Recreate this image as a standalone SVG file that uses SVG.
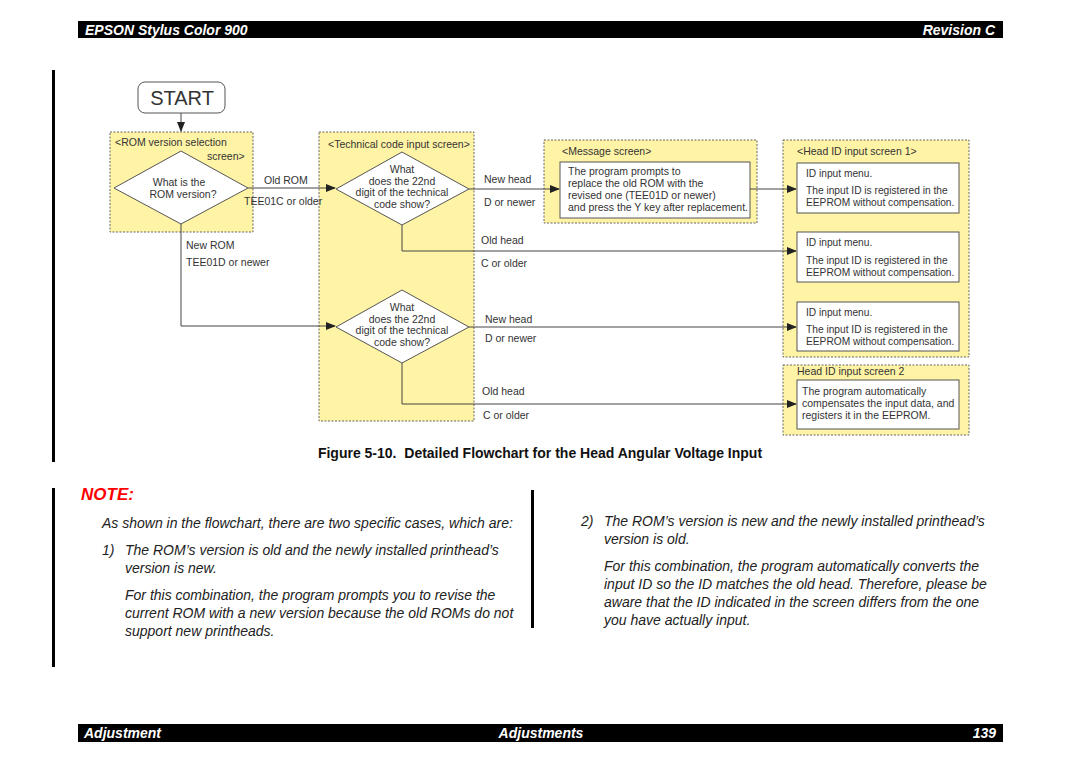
<svg xmlns="http://www.w3.org/2000/svg" width="1080" height="763" viewBox="0 0 1080 763">
<defs>
<marker id="arr" markerWidth="10" markerHeight="8" refX="9" refY="4" orient="auto" markerUnits="userSpaceOnUse">
<path d="M0,0 L10,4 L0,8 Z" fill="#222"/>
</marker>
<style>
.t{font-family:"Liberation Sans",Arial,sans-serif;font-size:10.5px;fill:#333}
.s{font-size:10.2px}
.zone{fill:#FFF4A6;stroke:#666;stroke-width:1;stroke-dasharray:2,1.5}
.wbox{fill:#fff;stroke:#555;stroke-width:1}
.dia{fill:#fff;stroke:#555;stroke-width:1}
.c{fill:none;stroke:#444;stroke-width:1}
.bar{fill:#000}
.hd{font-family:"Liberation Sans",Arial,sans-serif;font-size:14px;font-weight:bold;font-style:italic;fill:#fff}
.body{font-family:"Liberation Sans",Arial,sans-serif;font-size:14px;font-style:italic;fill:#222}
</style>
</defs>
<rect width="1080" height="763" fill="#fff"/>
<!-- header/footer -->
<rect class="bar" x="78" y="21" width="925" height="17"/>
<text class="hd" x="85" y="35">EPSON Stylus Color 900</text>
<text class="hd" x="995" y="35" text-anchor="end">Revision C</text>
<rect class="bar" x="78" y="724" width="925" height="18"/>
<text class="hd" x="84" y="738">Adjustment</text>
<text class="hd" x="541" y="738" text-anchor="middle">Adjustments</text>
<text class="hd" x="996" y="738" text-anchor="end">139</text>
<!-- change bars -->
<rect class="bar" x="52" y="70" width="3" height="392"/>
<rect class="bar" x="52" y="488" width="3" height="179"/>
<rect class="bar" x="531" y="490" width="3" height="138"/>

<!-- zones -->
<g id="zone-rom"><rect class="zone" x="110" y="132" width="143" height="100"/>
<text class="t" x="115" y="146">&lt;ROM version selection</text>
<text class="t" x="207" y="160">screen&gt;</text></g>
<g id="zone-tech"><rect class="zone" x="319" y="132" width="155" height="289"/>
<text class="t" x="328" y="148">&lt;Technical code input screen&gt;</text></g>
<g id="zone-msg"><rect class="zone" x="544" y="140" width="213" height="83"/>
<text class="t" x="562" y="155">&lt;Message screen&gt;</text></g>
<g id="zone-head1"><rect class="zone" x="783" y="140" width="186" height="217"/>
<text class="t" x="797" y="155">&lt;Head ID input screen 1&gt;</text></g>
<g id="zone-head2"><rect class="zone" x="783" y="365" width="186" height="70"/>
<text class="t" x="797" y="375">Head ID input screen 2</text></g>

<!-- connectors -->
<g id="connectors">
<path class="c" d="M181,113 V131" marker-end="url(#arr)"/>
<path class="c" d="M248,188 H335" marker-end="url(#arr)"/>
<path class="c" d="M469,189 H559" marker-end="url(#arr)"/>
<path class="c" d="M750,189 H796" marker-end="url(#arr)"/>
<path class="c" d="M402,225 V251 H796" marker-end="url(#arr)"/>
<path class="c" d="M181,224 V326 H335" marker-end="url(#arr)"/>
<path class="c" d="M469,327 H796" marker-end="url(#arr)"/>
<path class="c" d="M402,363 V404 H796" marker-end="url(#arr)"/>
<text class="t" x="264" y="184">Old ROM</text>
<text class="t" x="244" y="205">TEE01C or older</text>
<text class="t" x="484" y="183">New head</text>
<text class="t" x="484" y="206">D or newer</text>
<text class="t" x="481" y="244">Old head</text>
<text class="t" x="481" y="267">C or older</text>
<text class="t" x="186" y="249">New ROM</text>
<text class="t" x="186" y="266">TEE01D or newer</text>
<text class="t" x="485" y="323">New head</text>
<text class="t" x="485" y="342">D or newer</text>
<text class="t" x="482" y="395">Old head</text>
<text class="t" x="483" y="419">C or older</text>
</g>

<!-- nodes -->
<g id="start"><rect x="138" y="82" width="87" height="31" rx="7" fill="#fff" stroke="#555"/>
<text x="182" y="105" text-anchor="middle" style="font-family:'Liberation Sans',Arial,sans-serif;font-size:20px;fill:#333">START</text></g>
<g id="d-rom"><polygon class="dia" points="181,151 248,188 181,224 114,188"/>
<text class="t" x="179" y="186" text-anchor="middle">What is the</text>
<text class="t" x="183" y="198" text-anchor="middle">ROM version?</text></g>
<g id="d-tech1"><polygon class="dia" points="402,152 469,189 402,225 336,189"/>
<text class="t" x="402" y="173" text-anchor="middle">What</text>
<text class="t" x="402" y="185" text-anchor="middle">does the 22nd</text>
<text class="t" x="402" y="196" text-anchor="middle">digit of the technical</text>
<text class="t" x="402" y="208" text-anchor="middle">code show?</text></g>
<g id="d-tech2"><polygon class="dia" points="402,290 469,327 402,363 336,327"/>
<text class="t" x="402" y="311" text-anchor="middle">What</text>
<text class="t" x="402" y="323" text-anchor="middle">does the 22nd</text>
<text class="t" x="402" y="334" text-anchor="middle">digit of the technical</text>
<text class="t" x="402" y="346" text-anchor="middle">code show?</text></g>
<g id="msg"><rect class="wbox" x="560" y="162" width="190" height="56"/>
<text class="t" x="568" y="175">The program prompts to</text>
<text class="t" x="568" y="187">replace the old ROM with the</text>
<text class="t" x="568" y="199">revised one (TEE01D or newer)</text>
<text class="t" x="568" y="211">and press the Y key after replacement.</text></g>
<g id="head1a"><rect class="wbox" x="797" y="163" width="162" height="50"/>
<text class="t s" x="806" y="177">ID input menu.</text>
<text class="t s" x="806" y="194">The input ID is registered in the</text>
<text class="t s" x="806" y="206">EEPROM without compensation.</text></g>
<g id="head1b"><rect class="wbox" x="797" y="232" width="162" height="50"/>
<text class="t s" x="806" y="246">ID input menu.</text>
<text class="t s" x="806" y="264">The input ID is registered in the</text>
<text class="t s" x="806" y="276">EEPROM without compensation.</text></g>
<g id="head1c"><rect class="wbox" x="797" y="302" width="162" height="49"/>
<text class="t s" x="806" y="316">ID input menu.</text>
<text class="t s" x="806" y="333">The input ID is registered in the</text>
<text class="t s" x="806" y="345">EEPROM without compensation.</text></g>
<g id="head2"><rect class="wbox" x="797" y="380" width="162" height="49"/>
<text class="t" x="802" y="395">The program automatically</text>
<text class="t" x="802" y="407">compensates the input data, and</text>
<text class="t" x="802" y="419">registers it in the EEPROM.</text></g>

<!-- caption -->
<text x="540" y="458" text-anchor="middle" xml:space="preserve" style="font-family:'Liberation Sans',Arial,sans-serif;font-size:14px;font-weight:bold;fill:#111">Figure 5-10.  Detailed Flowchart for the Head Angular Voltage Input</text>

<!-- note -->
<text x="81" y="500" style="font-family:'Liberation Sans',Arial,sans-serif;font-size:17px;font-weight:bold;font-style:italic;fill:#ff0000">NOTE:</text>
<text class="body" x="102" y="528">As shown in the flowchart, there are two specific cases, which are:</text>
<text class="body" x="102" y="555">1)</text>
<text class="body" x="125" y="555">The ROM’s version is old and the newly installed printhead’s</text>
<text class="body" x="125" y="573">version is new.</text>
<text class="body" x="125" y="600">For this combination, the program prompts you to revise the</text>
<text class="body" x="125" y="618">current ROM with a new version because the old ROMs do not</text>
<text class="body" x="125" y="636">support new printheads.</text>
<text class="body" x="581" y="526">2)</text>
<text class="body" x="604" y="526">The ROM’s version is new and the newly installed printhead’s</text>
<text class="body" x="604" y="544">version is old.</text>
<text class="body" x="604" y="571">For this combination, the program automatically converts the</text>
<text class="body" x="604" y="589">input ID so the ID matches the old head. Therefore, please be</text>
<text class="body" x="604" y="607">aware that the ID indicated in the screen differs from the one</text>
<text class="body" x="604" y="625">you have actually input.</text>
</svg>
